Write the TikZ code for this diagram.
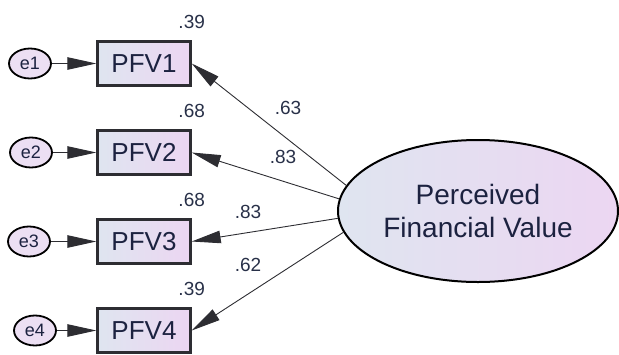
\documentclass[tikz,border=0pt]{standalone}
\usepackage{fontspec}
\setmainfont{Liberation Sans}
\usepackage{tikz}
\usetikzlibrary{arrows.meta,positioning,shapes.geometric}
\definecolor{semnavy}{RGB}{28,34,64}
\definecolor{semgrey}{RGB}{45,45,50}
\definecolor{semnum}{RGB}{40,48,72}
\definecolor{semblue}{RGB}{223,229,240}
\definecolor{sempink}{RGB}{236,214,242}
\definecolor{semerr}{RGB}{236,223,243}

\begin{document}
\begin{tikzpicture}[x=1pt,y=-1pt,>={Triangle[length=29pt,width=12.5pt]},
  obs/.style={draw=semgrey,line width=2.4pt,left color=semblue,right color=sempink,
    minimum width=93pt,minimum height=44pt,inner sep=0pt,text=semnavy,
    font=\fontsize{26}{30}\selectfont},
  err/.style={ellipse,draw=black,line width=1.8pt,fill=semerr,minimum width=42pt,
    minimum height=30pt,inner sep=0pt,text=semnavy,font=\fontsize{18}{21}\selectfont},
  lat/.style={ellipse,draw=black,line width=2pt,left color=semblue,right color=sempink,
    minimum width=280pt,minimum height=142pt,align=center,text=semnavy,
    font=\fontsize{28}{33}\selectfont},
  num/.style={inner sep=0pt,text=semnum,font=\fontsize{19}{22}\selectfont},
  load/.style={->,semgrey,line width=0.9pt}]
\useasboundingbox (0,0) rectangle (619,354);
% indicators, error terms and squared multiple correlations
\foreach \i/\yy/\ex/\rsq in {1/63.5/30/.39,2/152.5/31/.68,3/241.5/29/.68,4/330.5/35/.39}{
  \node[obs] (pfv\i) at (144,\yy) {PFV\i};
  \node[err] (e\i) at (\ex,\yy) {e\i};
  \node[num,above=11pt of pfv\i.north east] (r\i) {\rsq};
  \draw[load] (e\i) -- (pfv\i);
}
% latent factor and loadings
\node[lat] (pfval) at (478,211) {Perceived\\Financial Value};
\foreach \i/\ang/\lx/\ly/\w in {1/169/288/108/.63,2/175/283/157/.83,3/183/248/212/.83,4/189/248/265/.62}{
  \draw[load] (pfval.\ang) -- (pfv\i.east);
  \node[num] (w\i) at (\lx,\ly) {\w};
}
\end{tikzpicture}
\end{document}
